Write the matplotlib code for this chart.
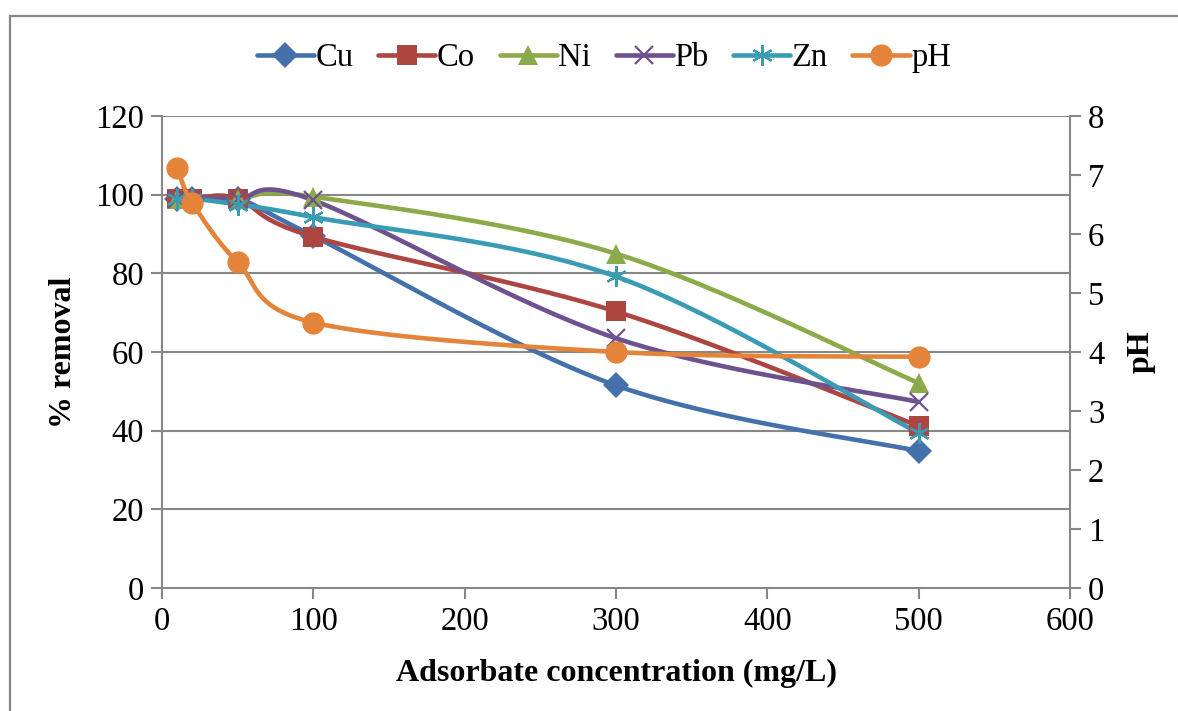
import numpy as np
import matplotlib.pyplot as plt
from matplotlib.patches import Rectangle

# -- data
conc = [10, 20, 50, 100, 300, 500]
cu = [99, 99, 99, 89.5, 51.5, 34.8]
co = [99, 99, 99, 89.3, 70.3, 41.2]
ni = [99, 99, 99, 99.5, 85.0, 52.1]
pb = [99, 99, 99, 98.6, 63.5, 47.3]
zn = [99, 99, 97.5, 94.3, 79.2, 39.4]
ph = [7.12, 6.53, 5.52, 4.5, 4.0, 3.92]

names = ["Cu", "Co", "Ni", "Pb", "Zn"]
series = [cu, co, ni, pb, zn]
colors = ["#4470AB", "#AD4541", "#8BAA4A", "#6E5290", "#3A9BB4"]
markers = ["D", "s", "^", "x", (6, 2, 0)]
msizes = [13, 14, 15, 13, 15]
ph_color = "#E3843A"

plt.rcParams["font.family"] = ["Liberation Serif", "DejaVu Serif"]


def smooth(x, y, n=40):
    # -- excel style smoothed line (bezier through the points)
    x = np.asarray(x, float)
    y = np.asarray(y, float)
    px = np.r_[x[0], x, x[-1]]
    py = np.r_[y[0], y, y[-1]]
    t = np.linspace(0, 1, n)[:, None]
    xs, ys = [], []
    for i in range(1, len(x)):
        p0 = np.array([px[i], py[i]])
        p3 = np.array([px[i + 1], py[i + 1]])
        c1 = p0 + (p3 - np.array([px[i - 1], py[i - 1]])) / 6.0
        c2 = p3 - (np.array([px[i + 2], py[i + 2]]) - p0) / 6.0
        b = ((1 - t) ** 3) * p0 + 3 * ((1 - t) ** 2) * t * c1 \
            + 3 * (1 - t) * t ** 2 * c2 + t ** 3 * p3
        xs.append(b[:, 0])
        ys.append(b[:, 1])
    return np.concatenate(xs), np.concatenate(ys)


fig = plt.figure(figsize=(11.78, 7.11), dpi=100)
ax = fig.add_axes([162 / 1178, 1 - 588 / 711, 908 / 1178, 472 / 711])
ax2 = ax.twinx()

# -- outer chart frame
fig.patches.append(Rectangle((10 / 1178, -0.1), 1.2, 0.1 + (711 - 16) / 711,
                             transform=fig.transFigure, fill=False,
                             edgecolor="#868686", lw=1.6, zorder=0))

gcol = "#878787"
for yv in range(20, 121, 20):
    ax.axhline(yv, color=gcol, lw=1.5, zorder=0)

handles = []
for nm, s, c, m, ms in zip(names, series, colors, markers, msizes):
    sx, sy = smooth(conc, s)
    ax.plot(sx, sy, color=c, lw=3.3, solid_capstyle="round", zorder=2)
    mew = 1.6 if m in ("x", (6, 2, 0)) else 0
    ax.plot(conc, s, ls="none", marker=m, ms=ms, color=c, mec=c, mew=mew,
            zorder=3)
    handles.append(plt.Line2D([], [], color=c, lw=3.3, marker=m, ms=ms,
                              mec=c, mew=mew, solid_capstyle="round"))

sx, sy = smooth(conc, ph)
ax2.plot(sx, sy, color=ph_color, lw=3.3, solid_capstyle="round", zorder=2)
ax2.plot(conc, ph, ls="none", marker="o", ms=15, color=ph_color, zorder=3)
handles.append(plt.Line2D([], [], color=ph_color, lw=3.3, marker="o", ms=15,
                          solid_capstyle="round"))

ax.set_xlim(0, 600)
ax.set_ylim(0, 120)
ax2.set_ylim(0, 8)
ax.set_xticks(range(0, 601, 100))
ax.set_yticks(range(0, 121, 20))
ax2.set_yticks(range(0, 9))

for a in (ax, ax2):
    for sp in a.spines.values():
        sp.set_visible(False)
    a.tick_params(labelsize=23.5, color=gcol, width=1.5, length=8, pad=5)
ax.spines["left"].set_visible(True)
ax.spines["bottom"].set_visible(True)
ax2.spines["right"].set_visible(True)
for sp in (ax.spines["left"], ax.spines["bottom"], ax2.spines["right"]):
    sp.set_color(gcol)
    sp.set_linewidth(1.5)

ax.set_xlabel("Adsorbate concentration (mg/L)", fontsize=23,
              fontweight="bold", labelpad=16)
ax.set_ylabel("% removal", fontsize=23, fontweight="bold", labelpad=12)
ax2.set_ylabel("pH", fontsize=23, fontweight="bold", labelpad=16)

fig.legend(handles, names + ["pH"], loc="center", ncol=6,
           bbox_to_anchor=(604 / 1178, 1 - 58 / 711), frameon=False,
           fontsize=23.5, handlelength=1.75, handletextpad=0.05,
           columnspacing=0.75)

fig.savefig("out.png", dpi=100)
